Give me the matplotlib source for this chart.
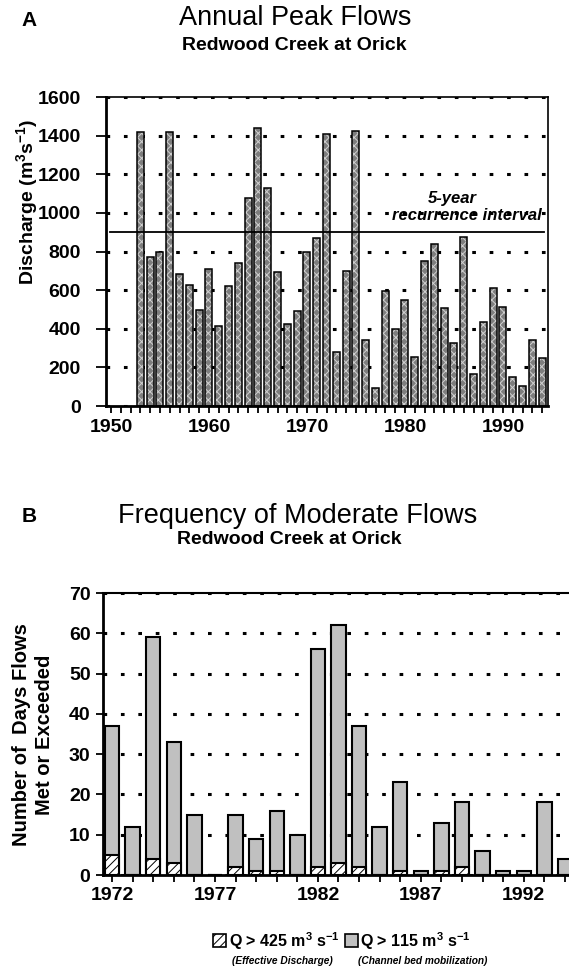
import numpy as np
import matplotlib
matplotlib.use("Agg")
import matplotlib.pyplot as plt
from matplotlib.patches import Rectangle

plt.rcParams["font.family"] = ["Liberation Sans", "DejaVu Sans"]
plt.rcParams["hatch.linewidth"] = 0.7
plt.rcParams["mathtext.fontset"] = "custom"
plt.rcParams["mathtext.rm"] = "Liberation Sans:bold"
plt.rcParams["mathtext.it"] = "Liberation Sans:bold:italic"
plt.rcParams["mathtext.bf"] = "Liberation Sans:bold"

# A: annual peak discharge (m3/s), Redwood Creek at Orick, 1953-1994
peak_years = list(range(1953, 1995))
peak_flow = [1417, 771, 798, 1417, 684, 629, 496, 707, 416, 620,
             741, 1075, 1438, 1128, 696, 425, 491, 800, 868, 1410,
             280, 700, 1426, 342, 92, 598, 397, 548, 256, 753,
             840, 506, 325, 874, 166, 437, 610, 515, 152, 104,
             340, 251]
recurrence_5yr = 900
peak_ticks = [1950, 1960, 1970, 1980, 1990]

# B: days per year flows met or exceeded, 1972-1994
freq_years = list(range(1972, 1995))
days_q115 = [37, 12, 59, 33, 15, 0, 15, 9, 16, 10, 56, 62, 37, 12, 23, 1,
             13, 18, 6, 1, 1, 18, 4]
days_q425 = [5, 0, 4, 3, 0, 0, 2, 1, 1, 0, 2, 3, 2, 0, 1, 0,
             1, 2, 0, 0, 0, 0, 0]
freq_ticks = [1972, 1977, 1982, 1987, 1992]

W, H = 569, 973
fig = plt.figure(figsize=(W / 100, H / 100), dpi=100)


def px(x, y):
    return x / W, 1 - y / H


def axes_px(x0, y0, x1, y1):
    return fig.add_axes([x0 / W, 1 - y1 / H, (x1 - x0) / W, (y1 - y0) / H])


dots = (0, (1.2, 4.5))

# ---------------- panel A ----------------
ax = axes_px(106, 97, 548, 406)
ax.bar(peak_years, peak_flow, width=0.72, color="#7e7e7e", edgecolor="#d0d0d0",
       hatch="xxxx", linewidth=0, zorder=2)
ax.bar(peak_years, peak_flow, width=0.72, color="none", edgecolor="black",
       linewidth=1.1, zorder=3)
ax.axhline(recurrence_5yr, xmin=0.01, xmax=0.99, color="black", lw=1.3, zorder=4)
ax.text(1984.8, 1075, "5-year", ha="center", va="center", fontsize=12,
        fontweight="bold", style="italic", zorder=5)
ax.text(1986.3, 985, "recurrence interval", ha="center", va="center", fontsize=12,
        fontweight="bold", style="italic", zorder=5)
ax.set_xlim(1949.5, 1994.6)
ax.set_ylim(0, 1600)
ax.set_yticks(range(0, 1601, 200))
ax.set_xticks(range(1950, 1995))
ax.set_xticklabels([str(y) if y in peak_ticks else "" for y in range(1950, 1995)])
ax.yaxis.grid(True, linestyle=dots, color="black", lw=2.2)
ax.set_axisbelow(True)
ax.tick_params(direction="out", length=5, width=1.3, pad=4)
ax.tick_params(axis="y", length=7, pad=11)
for lab in ax.get_xticklabels() + ax.get_yticklabels():
    lab.set_fontsize(14); lab.set_fontweight("bold")
ax.spines["left"].set_linewidth(2)
ax.spines["bottom"].set_linewidth(2)
ax.spines["top"].set_linewidth(1.2)
ax.spines["right"].set_linewidth(1.2)

fig.text(*px(27, 202), r"Discharge (m$^{3}$s$^{-1}$)", rotation=90, ha="center",
         va="center", fontsize=14, fontweight="bold")
fig.text(*px(29, 21), "A", ha="center", va="center", fontsize=15, fontweight="bold")
fig.text(*px(295, 18), "Annual Peak Flows", ha="center", va="center", fontsize=19.5)
fig.text(*px(294, 46), "Redwood Creek at Orick", ha="center", va="center",
         fontsize=14, fontweight="bold")

# ---------------- panel B ----------------
bx = axes_px(103, 593, 569, 875)
bx.bar(freq_years, days_q115, width=0.7, color="#c0c0c0", edgecolor="black",
       linewidth=1.5, zorder=2)
bx.bar(freq_years, days_q425, width=0.7, color="white", edgecolor="black",
       hatch="////", linewidth=1.5, zorder=3)
bx.set_xlim(1971.56, 1994.2)
bx.set_ylim(0, 70)
bx.set_yticks(range(0, 71, 10))
bx.set_xticks(range(1972, 1995))
bx.set_xticklabels([str(y) if y in freq_ticks else "" for y in range(1972, 1995)])
bx.yaxis.grid(True, linestyle=dots, color="black", lw=2.2)
bx.set_axisbelow(True)
bx.tick_params(direction="out", length=5, width=1.3, pad=4)
for lab in bx.get_xticklabels() + bx.get_yticklabels():
    lab.set_fontsize(14); lab.set_fontweight("bold")
bx.spines["left"].set_linewidth(2)
bx.spines["bottom"].set_linewidth(2)
bx.spines["top"].set_linewidth(1.5)
bx.spines["right"].set_visible(False)

fig.text(*px(22, 735), "Number of  Days Flows", rotation=90, ha="center",
         va="center", fontsize=14.5, fontweight="bold")
fig.text(*px(45, 735), "Met or Exceeded", rotation=90, ha="center",
         va="center", fontsize=14.5, fontweight="bold")
fig.text(*px(29, 517), "B", ha="center", va="center", fontsize=15, fontweight="bold")
fig.text(*px(298, 516), "Frequency of Moderate Flows", ha="center", va="center",
         fontsize=19.5)
fig.text(*px(289, 540), "Redwood Creek at Orick", ha="center", va="center",
         fontsize=14, fontweight="bold")

# legend (drawn by hand to keep the two-line layout)
for x0, hatch, face in [(213, "////", "white"), (345, None, "#c0c0c0")]:
    fx, fy = px(x0, 947)
    fig.add_artist(Rectangle((fx, fy), 13 / W, 13 / H, transform=fig.transFigure,
                             facecolor=face, edgecolor="black", hatch=hatch, lw=1.2))
fig.text(*px(229, 941), r"Q > 425 m$^{3}$ s$^{-1}$", ha="left", va="center",
         fontsize=11.5, fontweight="bold")
fig.text(*px(360, 941), r"Q > 115 m$^{3}$ s$^{-1}$", ha="left", va="center",
         fontsize=11.5, fontweight="bold")
fig.text(*px(232, 961), "(Effective Discharge)", ha="left", va="center",
         fontsize=7.3, fontweight="bold", style="italic")
fig.text(*px(358, 961), "(Channel bed mobilization)", ha="left", va="center",
         fontsize=7.3, fontweight="bold", style="italic")

fig.savefig("out.png", dpi=100)
